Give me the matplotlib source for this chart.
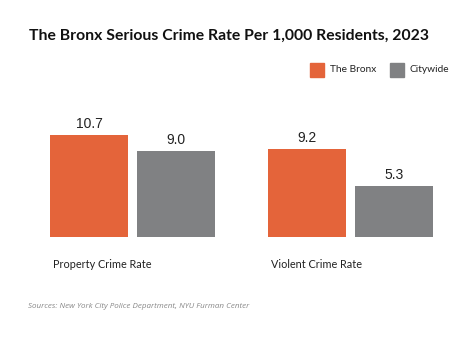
import numpy as np
import matplotlib
matplotlib.use("Agg")
import matplotlib.pyplot as plt
from matplotlib.patches import Rectangle

categories = ["Property Crime Rate", "Violent Crime Rate"]
series_names = ["The Bronx", "Citywide"]
bronx = [10.7, 9.2]
citywide = [9.0, 5.3]

orange = "#E4643A"
gray = "#808183"

fig = plt.figure(figsize=(4.74, 3.38), dpi=100)
fig.patch.set_facecolor("white")

# axes: baseline at y=237px, group spacing 218px
ax = fig.add_axes([0, 1 - 237 / 338, 1, (237 - 100) / 338])
ax.set_xlim(-132.5 / 218, (474 - 132.5) / 218)
ax.set_ylim(0, 137 / 9.53)
ax.axis("off")

x = np.arange(len(categories))
w = 78 / 218
off = 43.5 / 218
b1 = ax.bar(x - off, bronx, w, color=orange)
b2 = ax.bar(x + off, citywide, w, color=gray)

for bars, vals in ((b1, bronx), (b2, citywide)):
    for r, v in zip(bars, vals):
        ax.text(r.get_x() + r.get_width() / 2, v + 0.45, f"{v:.1f}",
                ha="center", va="bottom", fontsize=10, family="Liberation Sans",
                color="#222222")

for xi, cat in zip(x, categories):
    ax.text(xi - off - w / 2 + 0.012, -28 / 137, cat, transform=ax.get_xaxis_transform(),
            ha="left", va="center", fontsize=7.8, family="Lato", color="#222222")

fig.text(29 / 474, 1 - 36 / 338, "The Bronx Serious Crime Rate Per 1,000 Residents, 2023",
         ha="left", va="center", fontsize=11.35, fontweight="bold", family="Lato",
         color="#111111")

# legend
for lx, name, c in ((310, series_names[0], orange), (390, series_names[1], gray)):
    fig.patches.append(Rectangle((lx / 474, 1 - 77 / 338), 14 / 474, 14 / 338,
                                 transform=fig.transFigure, color=c))
    fig.text((lx + 20) / 474, 1 - 69.5 / 338, name, ha="left", va="center",
             fontsize=7.3, family="Lato", color="#222222")

fig.text(28 / 474, 1 - 306 / 338,
         "Sources: New York City Police Department, NYU Furman Center",
         ha="left", va="center", fontsize=5.8, style="italic", family="Open Sans",
         color="#888888")

fig.savefig("out.png", dpi=100, facecolor="white")
